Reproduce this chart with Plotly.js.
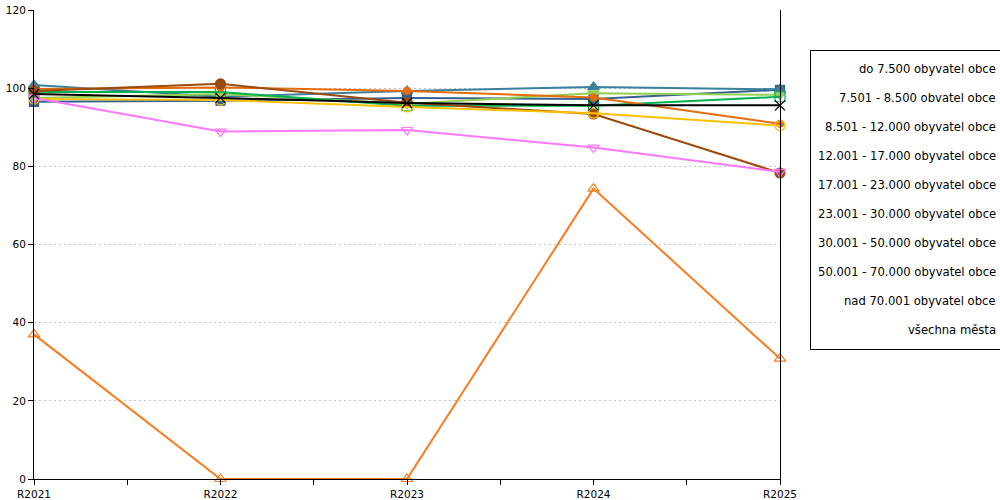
<!DOCTYPE html>
<html>
<head>
<meta charset="utf-8">
<script src="https://cdn.plot.ly/plotly-3.0.1.min.js"></script>
<style>html,body{margin:0;padding:0;background:#fff}#chart{width:1000px;height:500px}</style>
</head>
<body>
<div id="chart"></div>
<script>
// ---- data ----
const categories = ["R2021", "R2022", "R2023", "R2024", "R2025"];
const seriesNames = [
  "do 7.500 obyvatel obce",
  "7.501 - 8.500 obvatel obce",
  "8.501 - 12.000 obyvatel obce",
  "12.001 - 17.000 obyvatel obce",
  "17.001 - 23.000 obyvatel obce",
  "23.001 - 30.000 obyvatel obce",
  "30.001 - 50.000 obyvatel obce",
  "50.001 - 70.000 obyvatel obce",
  "nad 70.001 obyvatel obce",
  "všechna města"
];
const s_do7500     = [96.5, 96.8, 97.5, 97.2, 99.6];
const s_7501_8500  = [37.0, 0.0, 0.0, 74.3, 30.8];
const s_8501_12000 = [100.8, 97.8, 99.3, 100.3, 99.7];
const s_12001_17000= [97.5, 98.5, 96.0, 98.7, 98.3];
const s_17001_23000= [99.0, 99.0, 95.5, 95.5, 97.8];
const s_23001_30000= [99.8, 100.2, 99.3, 97.6, 90.9];
const s_30001_50000= [99.3, 101.1, 96.3, 93.4, 78.3];
const s_50001_70000= [97.2, 97.0, 95.2, 93.6, 90.4];
const s_nad70001   = [97.5, 88.9, 89.3, 84.8, 78.6];
const s_vsechna    = [98.5, 97.5, 96.2, 95.6, 95.6];
const yTicks = [0, 20, 40, 60, 80, 100, 120];

// ---- styles ----
const styles = [
  {c:'#366092', sym:'square', size:9},
  {c:'#fb7b1e', sym:'triangle-up-open', size:10},
  {c:'#3a7f9c', sym:'triangle-up', size:10},
  {c:'#92d050', sym:'triangle-down', size:10},
  {c:'#00b050', sym:'square-open', size:10},
  {c:'#e46c0a', sym:'circle', size:7},
  {c:'#9c4a0e', sym:'circle', size:10},
  {c:'#ffc000', sym:'circle-open', size:10},
  {c:'#ff77ff', sym:'triangle-down-open', size:10},
  {c:'#000000', sym:'x-thin-open', size:10}
];
const values = [s_do7500, s_7501_8500, s_8501_12000, s_12001_17000, s_17001_23000,
                s_23001_30000, s_30001_50000, s_50001_70000, s_nad70001, s_vsechna];
const xIdx = categories.map((_, i) => i);

const traces = values.map((v, i) => ({
  type: 'scatter', mode: 'lines+markers', name: seriesNames[i],
  x: xIdx, y: v,
  line: {color: styles[i].c, width: 2},
  marker: {symbol: styles[i].sym, size: styles[i].size, color: styles[i].c,
           line: {color: styles[i].c, width: 1.2}},
  cliponaxis: false,
  showlegend: false
}));

// ---- layout ----
const L = 34, R = 780, T = 10, B = 479, W = 1000, H = 500;
const pw = R - L, ph = B - T;
const px2x = p => (p - L) / pw;
const px2y = p => (B - p) / ph;

const annotations = seriesNames.map((n, i) => ({
  text: n, xref: 'paper', yref: 'paper',
  x: px2x(998), y: px2y(69 + i * 29.0),
  xanchor: 'right', yanchor: 'middle', showarrow: false,
  font: {family: 'DejaVu Sans, Verdana, sans-serif', size: 11.6, color: '#000'}
}));

const layout = {
  width: W, height: H,
  margin: {l: L, r: W - R, t: T, b: H - B, pad: 0},
  paper_bgcolor: '#fff', plot_bgcolor: '#fff',
  showlegend: false,
  font: {family: 'DejaVu Sans, Verdana, sans-serif', size: 10, color: '#000'},
  xaxis: {
    range: [0, 4], tickvals: xIdx, ticktext: categories,
    showgrid: false, zeroline: false,
    showline: true, linecolor: '#000', linewidth: 1,
    ticks: 'outside', ticklen: 5, tickcolor: '#000', tickwidth: 1,
    minor: {dtick: 0.5, tick0: 0, ticks: 'outside', ticklen: 5, tickcolor: '#000', showgrid: false},
    tickfont: {size: 10.5}, fixedrange: true
  },
  yaxis: {
    range: [0, 120], tickvals: yTicks,
    showgrid: true, gridcolor: '#c4c4c4', griddash: '2px,3px', gridwidth: 1,
    zeroline: false,
    showline: true, linecolor: '#000', linewidth: 1, mirror: true,
    ticks: 'outside', ticklen: 5, tickcolor: '#000',
    tickfont: {size: 10.5}, fixedrange: true
  },
  shapes: [{
    type: 'rect', xref: 'paper', yref: 'paper',
    x0: px2x(810.5), x1: px2x(1010), y0: px2y(349.5), y1: px2y(50.5),
    line: {color: '#000', width: 1}, fillcolor: 'rgba(0,0,0,0)'
  }],
  annotations: annotations
};

Plotly.newPlot('chart', traces, layout, {staticPlot: true, displayModeBar: false});
</script>
</body>
</html>
